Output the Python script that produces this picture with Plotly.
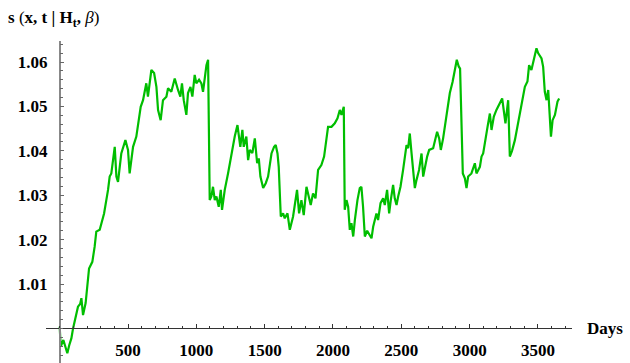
import plotly.graph_objects as go

days = [0, 5, 8, 27, 44, 56, 70, 86, 98, 117, 134, 150, 159, 171, 190, 215, 239, 256, 268, 293,
        325, 354, 366, 378, 403, 415, 427, 451, 481, 500, 512, 537, 561, 593, 610, 634, 646, 671, 691, 708,
        720, 739, 756, 781, 793, 817, 842, 866, 883, 895, 908, 927, 939, 957, 971, 988, 1000, 1020, 1037, 1049,
        1061, 1074, 1086, 1093, 1098, 1110, 1122, 1135, 1147, 1164, 1179, 1188, 1208, 1232, 1257, 1281, 1301, 1322, 1337, 1347,
        1366, 1379, 1391, 1410, 1428, 1445, 1457, 1469, 1489, 1508, 1525, 1550, 1569, 1581, 1594, 1603, 1618, 1635, 1647, 1667,
        1684, 1708, 1737, 1752, 1769, 1786, 1806, 1823, 1837, 1854, 1872, 1891, 1915, 1935, 1952, 1964, 1989, 2013, 2033, 2050,
        2062, 2079, 2086, 2099, 2111, 2123, 2135, 2148, 2160, 2179, 2196, 2208, 2220, 2233, 2250, 2262, 2282, 2294, 2318, 2330,
        2348, 2367, 2379, 2396, 2411, 2423, 2440, 2452, 2465, 2477, 2494, 2513, 2538, 2550, 2562, 2575, 2587, 2599, 2611, 2630,
        2648, 2660, 2689, 2704, 2733, 2753, 2762, 2777, 2789, 2806, 2831, 2855, 2875, 2893, 2906, 2920, 2930, 2950, 2965, 2977,
        2989, 3013, 3038, 3050, 3075, 3087, 3099, 3131, 3148, 3160, 3177, 3196, 3238, 3262, 3282, 3294, 3310, 3331, 3355, 3379,
        3404, 3423, 3435, 3452, 3465, 3477, 3489, 3501, 3526, 3538, 3550, 3563, 3575, 3595, 3607, 3624, 3643, 3655]

values = [1.0004, 0.9985, 0.9959, 0.9974, 0.9959, 0.9944, 0.9962, 0.9978, 1.0000, 1.0026, 1.0049, 1.0055, 1.0068, 1.0030, 1.0057, 1.0135, 1.0150, 1.0184, 1.0218, 1.0222,
          1.0259, 1.0312, 1.0342, 1.0349, 1.0409, 1.0342, 1.0330, 1.0394, 1.0424, 1.0402, 1.0349, 1.0409, 1.0432, 1.0499, 1.0514, 1.0552, 1.0522, 1.0582, 1.0575, 1.0544,
          1.0492, 1.0469, 1.0514, 1.0522, 1.0541, 1.0533, 1.0563, 1.0537, 1.0522, 1.0552, 1.0514, 1.0481, 1.0530, 1.0544, 1.0522, 1.0571, 1.0552, 1.0560, 1.0552, 1.0533,
          1.0567, 1.0593, 1.0605, 1.0364, 1.0289, 1.0297, 1.0319, 1.0289, 1.0297, 1.0274, 1.0312, 1.0267, 1.0312, 1.0349, 1.0394, 1.0432, 1.0458, 1.0409, 1.0447, 1.0409,
          1.0432, 1.0379, 1.0402, 1.0395, 1.0428, 1.0372, 1.0383, 1.0342, 1.0316, 1.0327, 1.0342, 1.0394, 1.0409, 1.0413, 1.0394, 1.0364, 1.0252, 1.0259, 1.0248, 1.0259,
          1.0222, 1.0252, 1.0312, 1.0259, 1.0289, 1.0255, 1.0319, 1.0297, 1.0278, 1.0304, 1.0293, 1.0357, 1.0368, 1.0387, 1.0424, 1.0454, 1.0454, 1.0462, 1.0473, 1.0492,
          1.0481, 1.0499, 1.0267, 1.0289, 1.0274, 1.0222, 1.0237, 1.0207, 1.0244, 1.0289, 1.0316, 1.0319, 1.0274, 1.0207, 1.0220, 1.0214, 1.0203, 1.0229, 1.0259, 1.0244,
          1.0282, 1.0293, 1.0278, 1.0312, 1.0259, 1.0289, 1.0323, 1.0293, 1.0278, 1.0297, 1.0319, 1.0357, 1.0413, 1.0406, 1.0439, 1.0394, 1.0349, 1.0316, 1.0334, 1.0357,
          1.0394, 1.0342, 1.0387, 1.0402, 1.0406, 1.0428, 1.0443, 1.0428, 1.0402, 1.0428, 1.0484, 1.0530, 1.0555, 1.0580, 1.0605, 1.0590, 1.0585, 1.0349, 1.0338, 1.0316,
          1.0342, 1.0349, 1.0372, 1.0349, 1.0364, 1.0387, 1.0394, 1.0454, 1.0484, 1.0447, 1.0477, 1.0492, 1.0518, 1.0462, 1.0514, 1.0387, 1.0400, 1.0424, 1.0462, 1.0499,
          1.0544, 1.0556, 1.0593, 1.0582, 1.0597, 1.0612, 1.0631, 1.0620, 1.0608, 1.0589, 1.0533, 1.0514, 1.0537, 1.0432, 1.0469, 1.0481, 1.0511, 1.0518]

x_ticks = [500, 1000, 1500, 2000, 2500, 3000, 3500]
y_ticks = [1.01, 1.02, 1.03, 1.04, 1.05, 1.06]

x_range = [-100, 3749]
y_range = [0.99221, 1.06473]
x_cross = 0
y_cross = 1.0

FONT = "Liberation Serif"

fig = go.Figure(go.Scatter(x=days, y=values, mode="lines",
                           line=dict(color="rgb(0,190,0)", width=2.2), showlegend=False))

x_pos = (y_cross - y_range[0]) / (y_range[1] - y_range[0])
y_pos = (x_cross - x_range[0]) / (x_range[1] - x_range[0])

fig.update_layout(
    width=630, height=363,
    margin=dict(l=46, r=58, t=41, b=0),
    paper_bgcolor="white", plot_bgcolor="white",
    title=dict(text="<b>s</b> (<b>x, t | H<sub>t</sub>, </b><i>β</i>)",
               x=8 / 630, xanchor="left", xref="container",
               y=1 - 17 / 363, yanchor="middle", yref="container",
               font=dict(family=FONT, size=17, color="black")),
    xaxis=dict(range=x_range, anchor="free", position=x_pos, automargin=False,
               showgrid=False, zeroline=False, showline=True, linecolor="#333", linewidth=1,
               tickvals=x_ticks, ticktext=[str(v) for v in x_ticks],
               ticks="inside", ticklen=4, tickcolor="#333", tickwidth=1,
               ticklabelstandoff=6,
               tickfont=dict(family=FONT, size=17, color="black", weight="bold"),
               minor=dict(dtick=100, tick0=0, ticks="inside", ticklen=2.5, tickcolor="#333", showgrid=False)),
    yaxis=dict(range=y_range, anchor="free", position=y_pos, automargin=False,
               showgrid=False, zeroline=False, showline=True, linecolor="#888", linewidth=1.5,
               tickvals=y_ticks, ticktext=[f"{v:.2f}" for v in y_ticks],
               ticks="inside", ticklen=4, tickcolor="#666", tickwidth=1,
               ticklabelstandoff=8,
               tickfont=dict(family=FONT, size=17, color="black", weight="bold"),
               minor=dict(dtick=0.002, tick0=1.0, ticks="inside", ticklen=2.5, tickcolor="#666", showgrid=False)),
    annotations=[dict(text="<b>Days</b>", xref="paper", x=1, xanchor="left", xshift=13,
                      yref="y", y=y_cross, yanchor="middle", showarrow=False,
                      font=dict(family=FONT, size=17, color="black"))],
)

html = fig.to_html(full_html=True, include_plotlyjs=True, config={"displayModeBar": False})
html = html.replace("<head>", "<head><style>html,body{margin:0;padding:0;overflow:hidden;}</style>", 1)
with open("out.html", "w", encoding="utf-8") as f:
    f.write(html)
